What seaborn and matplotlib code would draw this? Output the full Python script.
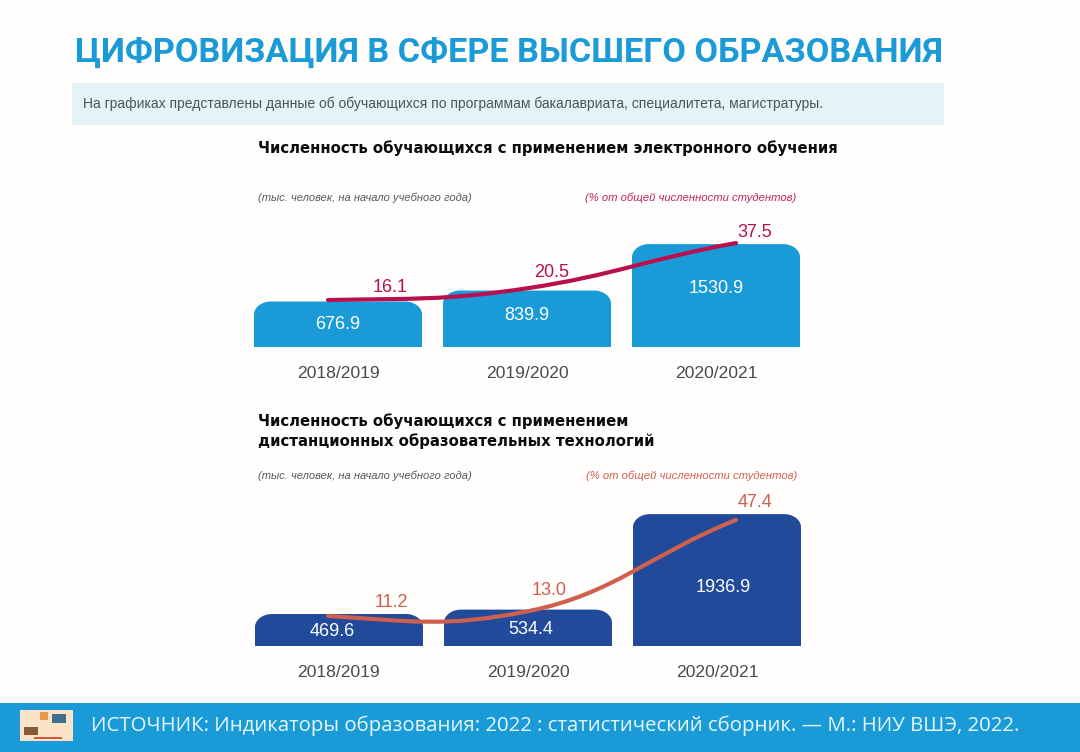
import matplotlib
matplotlib.use("Agg")
import matplotlib.pyplot as plt
import seaborn as sns
import pandas as pd
from matplotlib.patches import Rectangle, PathPatch
from matplotlib.path import Path

YEARS = ["2018/2019", "2019/2020", "2020/2021"]
ELEARN_THOUSANDS = [676.9, 839.9, 1530.9]
ELEARN_PERCENT = [16.1, 20.5, 37.5]
REMOTE_THOUSANDS = [469.6, 534.4, 1936.9]
REMOTE_PERCENT = [11.2, 13.0, 47.4]

TITLE = "ЦИФРОВИЗАЦИЯ В СФЕРЕ ВЫСШЕГО ОБРАЗОВАНИЯ"
NOTE = "На графиках представлены данные об обучающихся по программам бакалавриата, специалитета, магистратуры."
HEAD_1 = "Численность обучающихся с применением электронного обучения"
HEAD_2 = "Численность обучающихся с применением\nдистанционных образовательных технологий"
UNIT_L = "(тыс. человек, на начало учебного года)"
UNIT_R = "(% от общей численности студентов)"
SOURCE = "ИСТОЧНИК: Индикаторы образования: 2022 : статистический сборник. — М.: НИУ ВШЭ, 2022."

W, H = 1080, 752
BASE = ["Liberation Sans", "DejaVu Sans"]
sns.set_theme(style="white")
plt.rcParams["font.family"] = BASE
fig = plt.figure(figsize=(W / 100, H / 100), dpi=100, facecolor="#fffefc")


def T(x, y, s, x1=None, **kw):
    kw.setdefault("va", "center")
    t = fig.text(x / W, 1 - y / H, s, **kw)
    if x1 is not None:
        r = fig.canvas.get_renderer()
        w = t.get_window_extent(r).width
        t.set_fontsize(t.get_fontsize() * (x1 - x) / w)
    return t


def box(x0, y0, x1, y1, color):
    fig.add_artist(Rectangle((x0 / W, 1 - y1 / H), (x1 - x0) / W, (y1 - y0) / H,
                             transform=fig.transFigure, fc=color, ec="none"))


def rounded_tops(ax, rx, ry):
    for r in list(ax.patches):
        x0, x1 = r.get_x(), r.get_x() + r.get_width()
        top = r.get_height()
        k = 0.45
        verts = [(x0, 0), (x0, top - ry), (x0, top - ry * k), (x0 + rx * k, top), (x0 + rx, top),
                 (x1 - rx, top), (x1 - rx * k, top), (x1, top - ry * k), (x1, top - ry), (x1, 0), (x0, 0)]
        codes = [Path.MOVETO, Path.LINETO, Path.CURVE4, Path.CURVE4, Path.CURVE4,
                 Path.LINETO, Path.CURVE4, Path.CURVE4, Path.CURVE4, Path.LINETO, Path.CLOSEPOLY]
        ax.add_patch(PathPatch(Path(verts, codes), fc=r.get_facecolor(), ec="none", zorder=2))
        r.remove()


def panel(cx0, base, ymax, pxy, values, pct, pct_lim, color, line_color, val_off, pct_off, ends, slopes):
    pitch = 189
    ax = fig.add_axes([(cx0 - pitch / 2) / W, 1 - base / H, 3 * pitch / W, pxy / H])
    df = pd.DataFrame({"year": YEARS, "value": values})
    sns.barplot(data=df, x="year", y="value", color=color, saturation=1, width=168 / 189, ax=ax)
    ax.set_xlim(-0.5, 2.5)
    ax.set_ylim(0, ymax)
    rounded_tops(ax, 17 / 189, 13 * ymax / pxy)
    ax.set_xlabel("")
    ax.set_ylabel("")
    ax.set_yticks([])
    ax.tick_params(axis="x", length=0, pad=14, labelsize=12.6, labelcolor="#4a4a4a")
    sns.despine(ax=ax, left=True, bottom=True)
    ax.patch.set_alpha(0)
    for i, v in enumerate(values):
        ax.annotate(f"{v:.1f}", (i, v), xytext=val_off[i], textcoords="offset pixels",
                    ha="center", va="center", color="white", fontsize=13, zorder=5)

    ax2 = ax.twinx()
    ax2.set_ylim(*pct_lim)
    ax2.set_yticks([])
    sns.despine(ax=ax2, left=True, bottom=True, right=True)
    ax2.patch.set_alpha(0)
    xs = [ends[0], 1, ends[1]]
    ky = (pct_lim[1] - pct_lim[0]) / pxy   # percent per pixel
    verts = [(xs[0], pct[0])]
    codes = [Path.MOVETO]
    for i in range(2):
        dx = (xs[i + 1] - xs[i]) / 2.4
        dy0 = -slopes[i] * dx * pitch * ky
        dy1 = -slopes[i + 1] * dx * pitch * ky
        verts += [(xs[i] + dx, pct[i] + dy0), (xs[i + 1] - dx, pct[i + 1] - dy1), (xs[i + 1], pct[i + 1])]
        codes += [Path.CURVE4] * 3
    ax2.add_patch(PathPatch(Path(verts, codes), fc="none", ec=line_color, lw=3.0, capstyle="round", zorder=4))
    for i, v in enumerate(pct):
        ax2.annotate(f"{v:.1f}", (xs[i], v), xytext=pct_off[i], textcoords="offset pixels",
                     ha="center", va="center", color=line_color, fontsize=13, zorder=5)


# title and note
T(75, 53, TITLE, x1=944, family=["Roboto", "DejaVu Sans"], weight="bold", fontsize=24, color="#1a9bd7")
box(72, 83, 944, 125, "#e4f3f7")
T(83, 104, NOTE, x1=814, fontsize=13, color="#4d5257")

# footer
box(0, 703, W, H, "#1a9bd7")
box(20, 710, 73, 741, "#fbe3c8")
box(24, 727, 38, 735, "#8a5a32")
box(52, 714, 66, 723, "#3f6f8a")
box(40, 712, 48, 720, "#e69a4a")
box(34, 737, 62, 739, "#d8553a")
T(91, 726, SOURCE, x1=1020, family=["Open Sans", "DejaVu Sans"], fontsize=15, color="#e6f7fd")

# panel 1
T(258, 148, HEAD_1, family=["DejaVu Sans"], weight="bold", fontsize=10.7, color="#0c0c0c")
T(258, 198, UNIT_L, x1=470, style="italic", fontsize=11, color="#55595d")
T(585, 198, UNIT_R, x1=795, style="italic", fontsize=11, color="#c0245c")
panel(338, 347, 1800, 121, ELEARN_THOUSANDS, ELEARN_PERCENT, (-1.54, 43.9),
      "#1a9bd7", "#b8104f",
      [(0, -23), (0, -25), (0, -44)],
      [(62, 13), (25, 16), (19, 11)],
      (-0.053, 2.106), (-0.02, -0.15, -0.18))

# panel 2
T(258, 431, HEAD_2, family=["DejaVu Sans"], weight="bold", fontsize=10.7, color="#0c0c0c", linespacing=1.35)
T(258, 476, UNIT_L, x1=471, style="italic", fontsize=11, color="#55595d")
T(586, 476, UNIT_R, x1=796, style="italic", fontsize=11, color="#d2604f")
panel(339, 646, 2100, 143, REMOTE_THOUSANDS, REMOTE_PERCENT, (-0.11, 53.8),
      "#224a9b", "#cf5f4e",
      [(-7, -17), (3, -20), (6, -73)],
      [(63, 13), (21, 21), (19, 17)],
      (-0.058, 2.1), (0.06, -0.2, -0.4))

fig.savefig("out.png", dpi=100, facecolor=fig.get_facecolor())
